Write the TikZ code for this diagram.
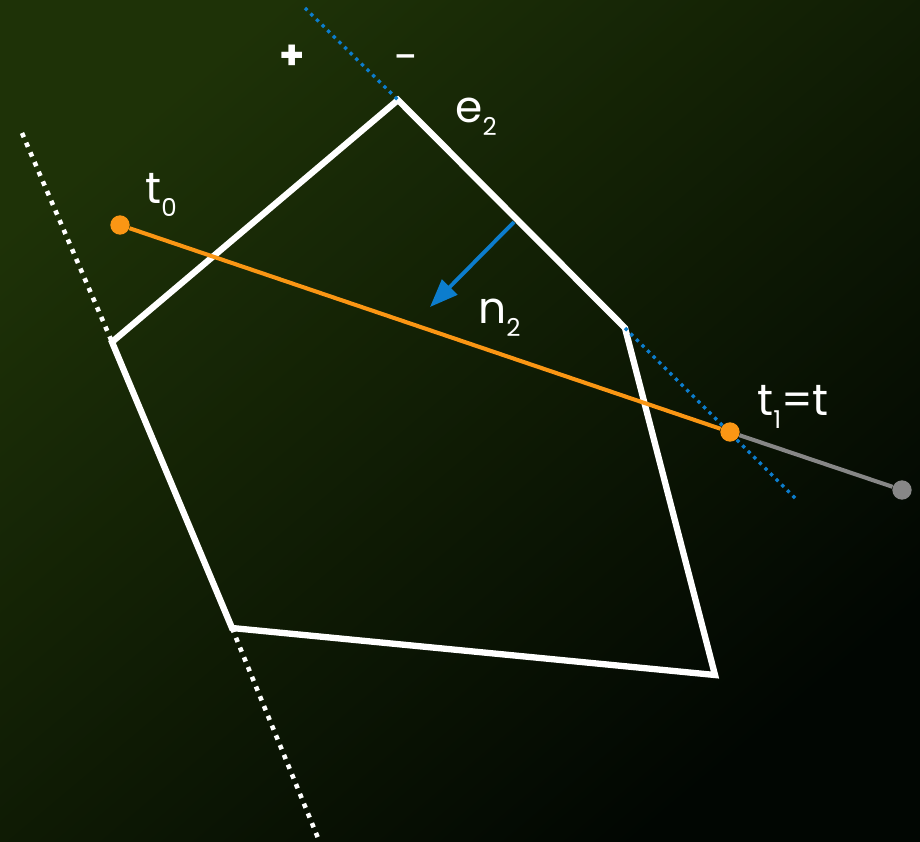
\documentclass[tikz,border=0pt]{standalone}
\usepackage{fontspec}
\setmainfont{Poppins}
\usetikzlibrary{arrows.meta,positioning}
\definecolor{bgtop}{RGB}{30,50,7}
\definecolor{bgbot}{RGB}{1,6,2}
\definecolor{rayorange}{RGB}{250,150,20}
\definecolor{edgeblue}{RGB}{12,125,205}
\definecolor{raygray}{RGB}{135,135,135}
\newcommand{\lowsub}[1]{\raisebox{-0.55ex}{\fontsize{14}{14}\selectfont #1}}

\begin{document}
\begin{tikzpicture}[x=0.02cm, y=-0.02cm,
  poly/.style={draw=white, line width=3.6pt, line join=miter},
  wdots/.style={draw=white, line width=2.6pt, dash pattern=on 2.6pt off 3.4pt},
  bdots/.style={draw=edgeblue, line width=1.9pt, dash pattern=on 1.9pt off 2.6pt},
  ray/.style={line width=2.3pt},
  dot/.style={circle, inner sep=0pt, minimum size=11pt},
  lab/.style={text=white, font=\fontsize{25}{29}\selectfont, inner sep=0pt}]
  % background
  \useasboundingbox (0,0) rectangle (920,842);
  \shade[top color=bgtop, bottom color=bgbot, shading angle=40] (0,0) rectangle (920,842);

  % polygon
  \coordinate (v1) at (398,100);
  \coordinate (v2) at (625,328);
  \coordinate (v3) at (715,675);
  \coordinate (v4) at (232,628);
  \coordinate (v5) at (112,342);
  \coordinate (wa) at (22,133);
  \coordinate (wb) at (318,838);
  \coordinate (ba) at (305,8);
  \coordinate (bb) at (797,500);
  \draw[wdots] (wa) -- (v5);
  \draw[wdots] (v4) -- (wb);
  \draw[poly] (v1) -- (v2) -- (v3) -- (v4) -- (v5) -- cycle;
  \draw[bdots] (ba) -- (v1);
  \draw[bdots] (v2) -- (bb);

  % normal of e2
  \coordinate (nfoot) at (514,222);
  \coordinate (ntip) at (430,307);
  \draw[edgeblue, line width=2.2pt, -{Triangle[length=16pt, width=12pt]}] (nfoot) -- (ntip);

  % ray
  \node[dot, fill=rayorange] (t0) at (120,225) {};
  \node[dot, fill=rayorange] (t1) at (730,432) {};
  \node[dot, fill=raygray] (tend) at (902,490) {};
  \draw[ray, rayorange] (t0) -- (t1);
  \draw[ray, raygray] (t1) -- (tend);

  % labels
  \node[lab, font=\fontsize{23}{27}\selectfont\bfseries] (plus) at (292,57) {+};
  \node[lab] (minus) at (407,64) {-};
  \node[lab, anchor=base west] (e2) at (455,122) {e\lowsub{2}};
  \node[lab, anchor=base west] (t0lab) at (145,203) {t\lowsub{0}};
  \node[lab, anchor=base west] (n2) at (478,323) {n\lowsub{2}};
  \node[lab, anchor=base west] (t1lab) at (757,415) {t\lowsub{1}=t};
\end{tikzpicture}
\end{document}
